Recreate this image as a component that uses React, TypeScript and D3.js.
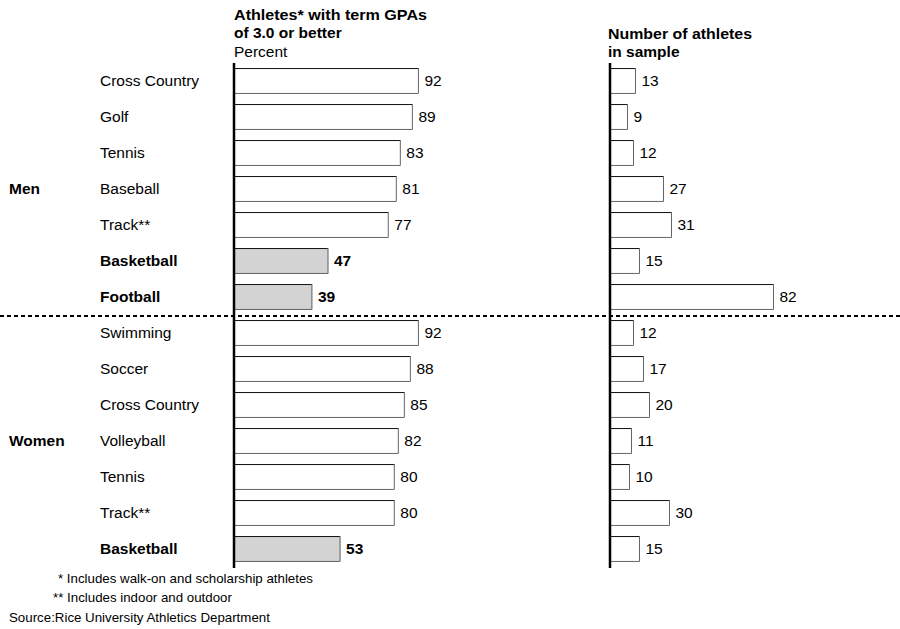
import React from "react";
import * as d3 from "d3";

const sports = [
  "Cross Country", "Golf", "Tennis", "Baseball", "Track**", "Basketball", "Football",
  "Swimming", "Soccer", "Cross Country", "Volleyball", "Tennis", "Track**", "Basketball",
];
const groups = ["Men", "Men", "Men", "Men", "Men", "Men", "Men",
  "Women", "Women", "Women", "Women", "Women", "Women", "Women"];
const gpaPercent = [92, 89, 83, 81, 77, 47, 39, 92, 88, 85, 82, 80, 80, 53];
const sampleSize = [13, 9, 12, 27, 31, 15, 82, 12, 17, 20, 11, 10, 30, 15];
const highlighted = [false, false, false, false, false, true, true,
  false, false, false, false, false, false, true];
const footnotes = [
  "* Includes walk-on and scholarship athletes",
  "** Includes indoor and outdoor",
];
const source = "Source:Rice University Athletics Department";

const W = 900;
const H = 629;
const FONT = "'Liberation Sans', Arial, Helvetica, sans-serif";
const FS = 15.5;
const TITLE_FS = 15.5;
const NOTE_FS = 13.3;

export default function App() {
  const rows = sports.map((s, i) => ({
    key: `${groups[i]}-${i}`,
    sport: s,
    group: groups[i],
    gpa: gpaPercent[i],
    n: sampleSize[i],
    hi: highlighted[i],
  }));

  const y = d3
    .scaleBand<string>()
    .domain(rows.map((r) => r.key))
    .range([63, 567])
    .paddingInner(0.28)
    .paddingOuter(0.14);

  const xLeft = d3.scaleLinear().domain([0, 100]).range([234, 435]);
  const xRight = d3.scaleLinear().domain([0, 100]).range([610, 810]);

  const bh = y.bandwidth();
  const groupNames = Array.from(new Set(groups));
  const groupCenter = (g: string) => {
    const ks = rows.filter((r) => r.group === g).map((r) => y(r.key)! + bh / 2);
    return (ks[0] + ks[ks.length - 1]) / 2;
  };
  const splitY =
    (y(rows[6].key)! + bh + y(rows[7].key)!) / 2 + 1;

  const bar = (x0: number, x1: number, top: number, fill: string, k: string) => (
    <g key={k}>
      <rect x={x0} y={top} width={x1 - x0} height={bh} fill={fill} />
      <path
        d={`M${x0},${top + 0.5}H${x1 - 0.5}`}
        stroke="#111"
        strokeWidth={1}
        fill="none"
      />
      <path
        d={`M${x1 - 0.5},${top}V${top + bh - 0.5}H${x0}`}
        stroke="#666"
        strokeWidth={1}
        fill="none"
      />
    </g>
  );

  return (
    <svg
      width={W}
      height={H}
      style={{ position: "absolute", left: 0, top: 0, background: "#fff" }}
      fontFamily={FONT}
    >
      {/* headers */}
      <text
        x={234}
        y={20}
        fontSize={TITLE_FS}
        fontWeight="bold"
        fill="#000"
        textLength={193}
        lengthAdjust="spacingAndGlyphs"
      >
        Athletes* with term GPAs
      </text>
      <text x={234} y={38} fontSize={TITLE_FS} fontWeight="bold" fill="#000">
        of 3.0 or better
      </text>
      <text x={234} y={57} fontSize={FS} fill="#000">
        Percent
      </text>
      <text
        x={608}
        y={39}
        fontSize={TITLE_FS}
        fontWeight="bold"
        fill="#000"
        textLength={144}
        lengthAdjust="spacingAndGlyphs"
      >
        Number of athletes
      </text>
      <text x={608} y={57} fontSize={TITLE_FS} fontWeight="bold" fill="#000">
        in sample
      </text>

      {/* group labels */}
      {groupNames.map((g) => (
        <text
          key={g}
          x={9}
          y={groupCenter(g)}
          dy="0.35em"
          fontSize={FS}
          fontWeight="bold"
          fill="#000"
        >
          {g}
        </text>
      ))}

      {rows.map((r) => {
        const top = y(r.key)!;
        const cy = top + bh / 2;
        const fill = r.hi ? "#d3d3d3" : "#fff";
        return (
          <g key={r.key}>
            <text
              x={100}
              y={cy}
              dy="0.35em"
              fontSize={FS}
              fontWeight={r.hi ? "bold" : "normal"}
              fill="#000"
            >
              {r.sport}
            </text>
            {bar(xLeft(0), xLeft(r.gpa), top, fill, "l")}
            <text
              x={xLeft(r.gpa) + 5.5}
              y={cy}
              dy="0.35em"
              fontSize={FS}
              fontWeight={r.hi ? "bold" : "normal"}
              fill="#000"
            >
              {r.gpa}
            </text>
            {bar(xRight(0), xRight(r.n), top, "#fff", "r")}
            <text
              x={xRight(r.n) + 5.5}
              y={cy}
              dy="0.35em"
              fontSize={FS}
              fill="#000"
            >
              {r.n}
            </text>
          </g>
        );
      })}

      {/* axes */}
      <line x1={xLeft(0)} x2={xLeft(0)} y1={63} y2={568} stroke="#000" strokeWidth={2.5} />
      <line x1={xRight(0)} x2={xRight(0)} y1={63} y2={568} stroke="#000" strokeWidth={2.5} />

      {/* men / women divider */}
      <line
        x1={0}
        x2={W}
        y1={splitY}
        y2={splitY}
        stroke="#000"
        strokeWidth={2}
        strokeDasharray="4 3"
      />

      {/* notes */}
      <text x={58} y={583} fontSize={NOTE_FS} fill="#000">
        {footnotes[0]}
      </text>
      <text x={53} y={602} fontSize={NOTE_FS} fill="#000">
        {footnotes[1]}
      </text>
      <text x={9} y={622} fontSize={NOTE_FS} fill="#000">
        {source}
      </text>
    </svg>
  );
}
